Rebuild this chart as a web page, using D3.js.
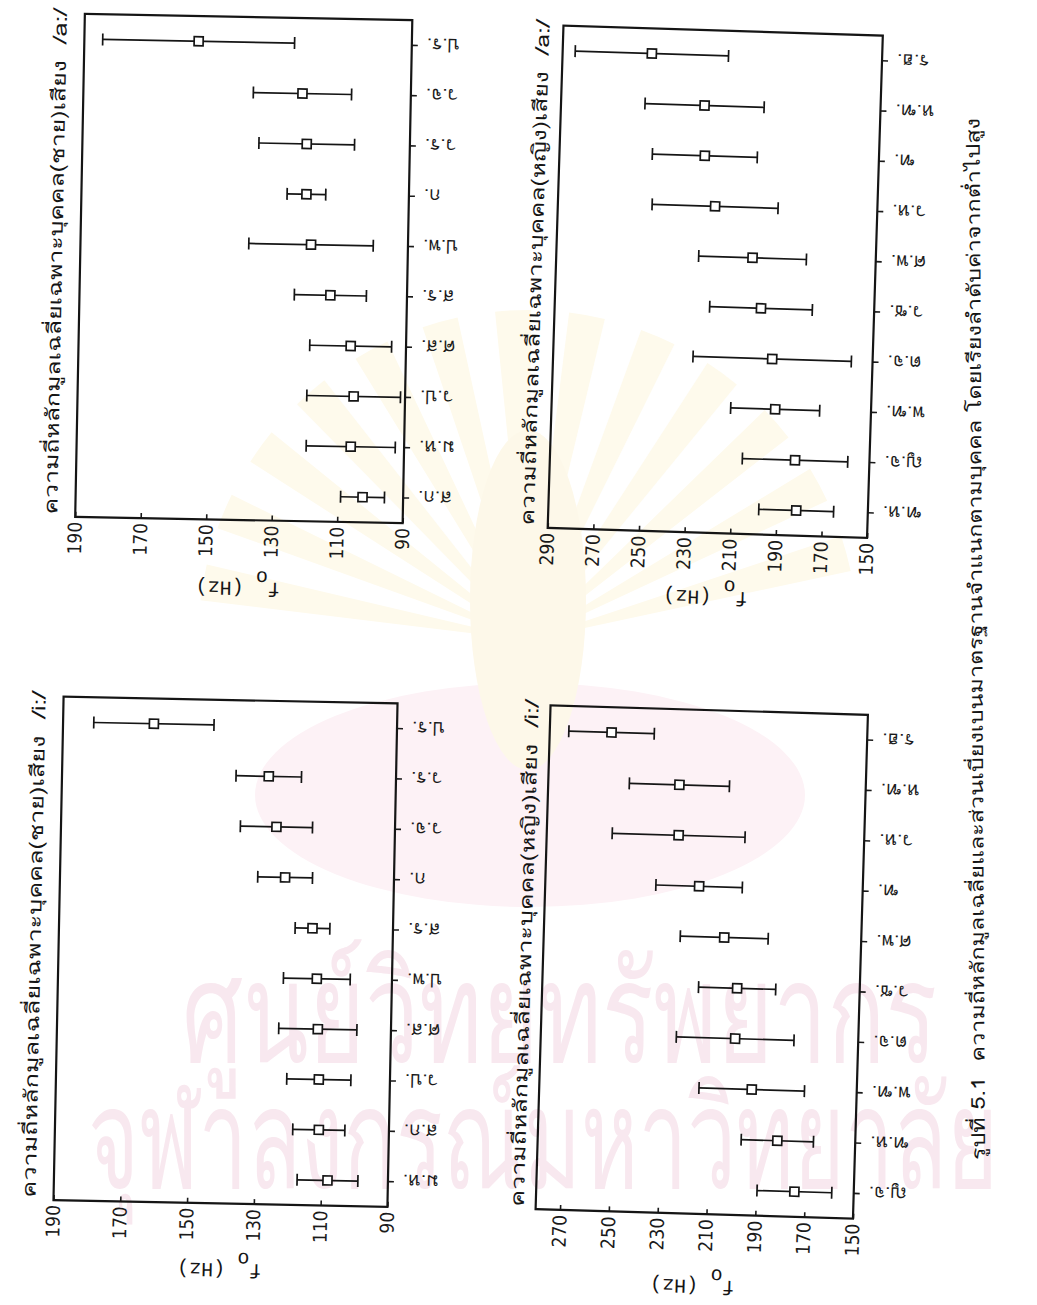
<!DOCTYPE html>
<html>
<head>
<meta charset="utf-8">
<script src="https://cdn.jsdelivr.net/npm/d3@7"></script>
<style>
  body { margin: 0; background: #fff; }
  svg { display: block; }
  .thai { font-family: "Tlwg Typo", "Tlwg Mono", "Loma", "Garuda", "Norasi", "Noto Sans Thai", "Noto Sans", "DejaVu Sans", sans-serif; }
  .num { font-family: "DejaVu Sans Condensed", "DejaVu Sans", sans-serif; font-stretch: condensed; }
  .mono { font-family: "Liberation Mono", "DejaVu Sans Mono", monospace; }
</style>
</head>
<body>
<div id="wrapper"></div>
<script>
// 1. Data (speakers sorted from lowest to highest mean f0)
const titleMaleA = "ความถี่หลักมูลเฉลี่ยเฉพาะบุคคล(ชาย)เสียง  /a:/"
const titleFemaleA = "ความถี่หลักมูลเฉลี่ยเฉพาะบุคคล(หญิง)เสียง  /a:/"
const titleMaleI = "ความถี่หลักมูลเฉลี่ยเฉพาะบุคคล(ชาย)เสียง  /i:/"
const titleFemaleI = "ความถี่หลักมูลเฉลี่ยเฉพาะบุคคล(หญิง)เสียง  /i:/"
const caption = "รูปที่ 5.1  ความถี่หลักมูลเฉลี่ยและส่วนเบี่ยงเบนมาตรฐานจำแนกตามบุคคล โดยเรียงลำดับค่าจากต่ำไปสูง"
const watermark = ["ศูนย์วิทยทรัพยากร", "จุฬาลงกรณ์มหาวิทยาลัย"]

const maleALabels = ["ส.ก.", "ม.ห.", "ว.ป.", "ศ.ส.", "ส.ร.", "ป.พ.", "ก.", "ว.ร.", "ว.จ.", "ป.ร."]
const maleAMeans  = [102.4, 106.3, 105.7, 106.9, 113.4, 119.6, 121.3, 121.5, 123.1, 155.1]
const maleASds    = [6.7, 13.6, 14.3, 12.5, 11.0, 19.0, 5.9, 14.6, 15.0, 29.3]

const femaleALabels = ["ฑ.ห.", "ญ.จ.", "พ.ฑ.", "ต.จ.", "ว.ซ.", "ศ.พ.", "ว.ห.", "ฑ.", "ห.ฑ.", "ร.ฮ."]
const femaleAMeans  = [181.4, 182.6, 192.0, 194.0, 199.6, 204.0, 221.1, 226.3, 227.1, 250.9]
const femaleASds    = [16.4, 23.1, 19.5, 34.7, 22.5, 23.6, 27.6, 23.0, 26.1, 33.6]

const maleILabels = ["ม.ห.", "ส.ก.", "ว.ป.", "ศ.ส.", "ป.พ.", "ส.ร.", "ก.", "ว.จ.", "ว.ร.", "ป.ร."]
const maleIMeans  = [108.1, 111.0, 111.3, 111.9, 112.5, 114.1, 122.6, 125.5, 128.1, 162.8]
const maleISds    = [9.1, 7.8, 9.6, 11.7, 10.0, 5.2, 8.2, 10.8, 9.8, 18.0]

const femaleILabels = ["ญ.จ.", "ฑ.ห.", "พ.ฑ.", "ต.จ.", "ว.ซ.", "ศ.พ.", "ฑ.", "ว.ห.", "ห.ฑ.", "ร.ฮ."]
const femaleIMeans  = [174.3, 181.9, 193.0, 200.4, 200.2, 206.1, 217.0, 226.0, 226.3, 254.7]
const femaleISds    = [15.3, 14.8, 21.6, 24.1, 15.8, 18.0, 17.7, 27.2, 20.5, 17.5]

const maleTicks = [90, 110, 130, 150, 170, 190]
const femaleATicks = [150, 170, 190, 210, 230, 250, 270, 290]
const femaleITicks = [150, 170, 190, 210, 230, 250, 270]
const maleDomain = [90, 190]
const femaleADomain = [150, 290]
const femaleIDomain = [150, 280]

// 2. Page
const svg = d3.select("#wrapper")
  .append("svg")
    .attr("width", 1037)
    .attr("height", 1305)

svg.append("rect").attr("width", 1037).attr("height", 1305).attr("fill", "#fff")

// faint library watermark behind the charts
const wm = svg.append("g")
const rays = d3.range(13)
const rayArc = d3.arc().innerRadius(40).outerRadius(330)
wm.append("g")
    .attr("transform", "translate(528,640)")
  .selectAll("path")
  .data(rays)
  .join("path")
    .attr("d", i => rayArc({ startAngle: -1.45 + i * 0.225, endAngle: -1.45 + i * 0.225 + 0.11 }))
    .attr("fill", "#fefaec")
wm.append("ellipse")
  .attr("cx", 530).attr("cy", 795)
  .attr("rx", 275).attr("ry", 112)
  .attr("fill", "#fdf2f6")
wm.append("ellipse")
  .attr("cx", 528).attr("cy", 600)
  .attr("rx", 58).attr("ry", 170)
  .attr("fill", "#fdf8e9")
wm.selectAll("text")
  .data(watermark)
  .join("text")
    .attr("class", "thai")
    .attr("x", (d, i) => i ? 88 : 182)
    .attr("y", (d, i) => i ? 1188 : 1062)
    .attr("textLength", (d, i) => i ? 910 : 755)
    .attr("lengthAdjust", "spacingAndGlyphs")
    .attr("fill", "#f8e8ef")
    .style("font-size", "140px")
    .text(d => d)

// panel placement (the scanned page is turned on its side)
const panels = [
  { title: titleMaleA, labels: maleALabels, means: maleAMeans, sds: maleASds,
    domain: maleDomain, ticks: maleTicks,
    cx: 243.75, cy: 268.5, w: 327.5, h: 503, rot: 1.1, titleGap: 18, labelGap: 68 },
  { title: titleFemaleA, labels: femaleALabels, means: femaleAMeans, sds: femaleASds,
    domain: femaleADomain, ticks: femaleATicks,
    cx: 715.25, cy: 281.75, w: 319.5, h: 502.5, rot: 1.8, titleGap: 14, labelGap: 64 },
  { title: titleMaleI, labels: maleILabels, means: maleIMeans, sds: maleISds,
    domain: maleDomain, ticks: maleTicks,
    cx: 225.5, cy: 951.75, w: 334, h: 503.5, rot: 1.15, titleGap: 18, labelGap: 66 },
  { title: titleFemaleI, labels: femaleILabels, means: femaleIMeans, sds: femaleISds,
    domain: femaleIDomain, ticks: femaleITicks,
    cx: 701.75, cy: 962, w: 317.5, h: 504, rot: 1.7, titleGap: 12, labelGap: 72 },
]

panels.forEach(drawPanel)

function drawPanel(p) {
  // local frame = the chart as printed: categories along x, f0 along y
  const W = p.h   // category axis length
  const H = p.w   // value axis length
  const g = svg.append("g")
    .attr("transform", `translate(${p.cx},${p.cy}) rotate(${p.rot - 90}) translate(${-W / 2},${-H / 2})`)

  const xScale = d3.scaleBand()
    .domain(p.labels)
    .range([0, W])

  const yScale = d3.scaleLinear()
    .domain(p.domain)
    .range([H, 0])

  // value axis (ticks point inward)
  const yAxis = g.append("g")
    .call(d3.axisLeft(yScale).tickValues(p.ticks).tickSizeInner(-5).tickSizeOuter(0).tickPadding(5))
    .attr("font-size", null)
    .attr("font-family", null)
  yAxis.select(".domain").remove()
  yAxis.selectAll("line").attr("stroke", "#1a1a1a").attr("stroke-width", 1.6)
  yAxis.selectAll("text")
    .attr("class", "num")
    .attr("fill", "#1a1a1a")
    .style("font-size", "19px")

  // category axis (ticks outward, labels turned)
  const xAxis = g.append("g")
    .attr("transform", `translate(0,${H})`)
    .call(d3.axisBottom(xScale).tickSizeInner(6).tickSizeOuter(0).tickFormat(""))
  xAxis.select(".domain").remove()
  xAxis.selectAll("line").attr("stroke", "#1a1a1a").attr("stroke-width", 1.6)

  g.append("g").selectAll("text")
    .data(p.labels)
    .join("text")
      .attr("class", "thai")
      .attr("transform", d => `translate(${xScale(d) + xScale.bandwidth() / 2},${H + 15}) rotate(-90)`)
      .attr("dy", "0.38em")
      .attr("text-anchor", "end")
      .attr("fill", "#1a1a1a")
      .style("font-size", "19px")
      .text(d => d)

  // frame
  g.append("rect")
    .attr("width", W)
    .attr("height", H)
    .attr("fill", "none")
    .attr("stroke", "#151515")
    .attr("stroke-width", 2.2)

  // error bars
  const rows = p.labels.map((d, i) => ({ label: d, mean: p.means[i], sd: p.sds[i] }))
  const bars = g.append("g").selectAll("g")
    .data(rows)
    .join("g")
      .attr("transform", d => `translate(${xScale(d.label) + xScale.bandwidth() / 2},0)`)
      .attr("stroke", "#151515")
      .attr("stroke-width", 1.7)

  bars.append("line")
    .attr("y1", d => yScale(d.mean + d.sd))
    .attr("y2", d => yScale(d.mean - d.sd))
  bars.append("line")
    .attr("x1", -6).attr("x2", 6)
    .attr("y1", d => yScale(d.mean + d.sd))
    .attr("y2", d => yScale(d.mean + d.sd))
  bars.append("line")
    .attr("x1", -6).attr("x2", 6)
    .attr("y1", d => yScale(d.mean - d.sd))
    .attr("y2", d => yScale(d.mean - d.sd))
  bars.append("rect")
    .attr("x", -4.5).attr("width", 9)
    .attr("y", d => yScale(d.mean) - 4.5).attr("height", 9)
    .attr("fill", "#fff")

  // title above the frame
  g.append("text")
    .attr("class", "thai")
    .attr("x", 2)
    .attr("y", -p.titleGap)
    .attr("textLength", W + 3)
    .attr("lengthAdjust", "spacingAndGlyphs")
    .attr("fill", "#151515")
    .style("font-size", "19px")
    .style("white-space", "pre")
    .text(p.title)

  // value axis label f0 (Hz)
  const yLabel = g.append("text")
    .attr("class", "mono")
    .attr("transform", `translate(${-p.labelGap},${H / 2}) rotate(-90)`)
    .attr("text-anchor", "middle")
    .attr("dy", "0.3em")
    .attr("fill", "#151515")
    .style("font-size", "20px")
  yLabel.append("tspan").text("f")
  yLabel.append("tspan").attr("dy", "0.55em").text("o")
  yLabel.append("tspan").attr("dy", "-0.55em").text(" (Hz)")
}

// 3. Caption along the right edge
svg.append("text")
  .attr("class", "thai")
  .attr("transform", "translate(985,1160) rotate(-90.3)")
  .attr("textLength", 1042)
  .attr("lengthAdjust", "spacingAndGlyphs")
  .attr("fill", "#151515")
  .style("font-size", "19px")
  .style("white-space", "pre")
  .text(caption)
</script>
</body>
</html>
